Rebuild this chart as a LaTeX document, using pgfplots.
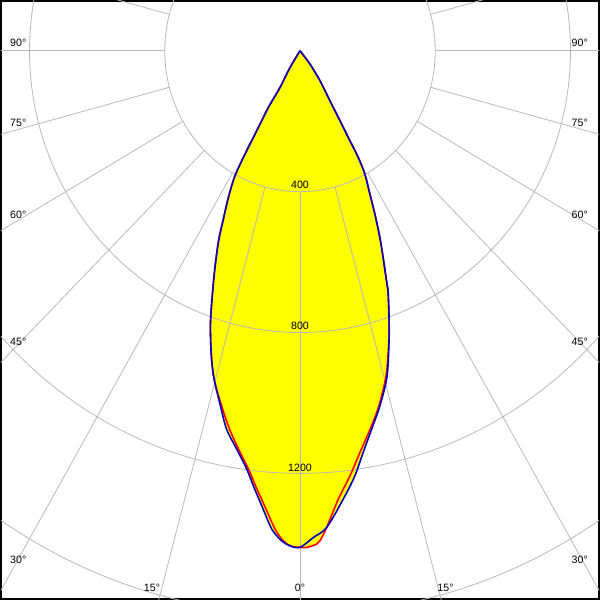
\documentclass[border=0pt]{standalone}
\usepackage{fontspec}
\setmainfont{Liberation Sans}
\usepackage{pgfplots}
\usepackage{pgfplotstable}
\pgfplotsset{compat=1.18}
\definecolor{gridc}{RGB}{185,185,185}
\definecolor{cblue}{RGB}{0,0,190}
\definecolor{cyellow}{RGB}{255,255,0}

% signed angle from nadir (negative = left), intensity in cd
\pgfplotstableread{
a I
-30.0 0
-31.9 55.7
-29.6 119.5
-30.2 185.7
-29.5 249.5
-29.2 302.4
-28.9 355.7
-28.4 407.6
-27.0 465.9
-25.3 532.4
-24.1 589.3
-22.5 653.6
-21.0 717.7
-18.9 817.8
-16.8 906.9
-15.2 967.8
-13.1 1036.8
-11.4 1097.1
-9.36 1147.5
-7.53 1199.1
-6.36 1243.6
-4.99 1297.6
-3.51 1361.2
-2.22 1392.8
-1.2 1406.2
0 1410
1.63 1382.7
3.33 1356.1
5.72 1280.1
7.64 1218.6
9.28 1156.7
11.12 1096.2
13.15 1036.8
15.56 959.9
17.79 862.0
19.23 799.5
20.96 727.5
21.43 699.4
22.77 634.5
24.05 578.6
25.57 512.4
26.97 455.1
28.77 398.1
29.65 347.5
30.06 294.3
30.8 230.6
32.0 166.9
34.8 103.4
38.1 47.8
40.0 0
}\bluedata

\pgfplotstableread{
a I
-30.0 0
-31.9 55.7
-29.6 119.5
-30.2 185.7
-29.5 249.5
-29.2 302.4
-28.9 355.7
-28.4 407.6
-27.0 465.9
-25.3 532.4
-24.1 589.3
-22.5 653.6
-21.0 717.7
-18.9 817.8
-16.8 906.9
-15.2 967.8
-12.91 1035.8
-10.94 1095.5
-9.10 1146.6
-7.28 1198.5
-6.06 1243.0
-4.63 1296.9
-3.10 1360.6
-2.03 1392.6
-1.08 1407.0
0 1410
0.8 1410.5
2.01 1402.0
2.43 1393.0
3.33 1356.0
5.07 1278.7
6.96 1216.8
8.81 1155.1
10.9 1095.0
13.0 1036.0
15.4 958.0
17.79 862.0
19.23 799.5
20.96 727.5
21.43 699.4
22.77 634.5
24.05 578.6
25.57 512.4
26.97 455.1
28.77 398.1
29.65 347.5
30.06 294.3
30.8 230.6
32.0 166.9
34.8 103.4
38.1 47.8
40.0 0
}\reddata

\begin{document}
\begin{tikzpicture}
\begin{axis}[
  width=450pt, height=450pt, scale only axis,
  xmin=-884.4, xmax=884.4, ymin=-1556.7, ymax=141.5,
  xtick=\empty, ytick=\empty,
  axis line style={line width=1.5pt, black},
  clip=true,
  every axis plot/.append style={data cs=polar, smooth, tension=0.5},
]
% filled light distribution
\addplot[fill=cyellow, draw=none] table[x expr=\thisrow{a}-90, y=I]{\bluedata};
\addplot[fill=cyellow, draw=none] table[x expr=\thisrow{a}-90, y=I]{\reddata};

% polar grid
\pgfplotsinvokeforeach{400,800,1200,1600,2000}{
  \draw[gridc, line width=0.6pt] (axis cs:0,0) ellipse [x radius=#1, y radius=#1];
}
\pgfplotsinvokeforeach{0,15,...,345}{
  \draw[gridc, line width=0.6pt] (axis cs:{400*cos(#1)},{400*sin(#1)}) -- (axis cs:{3000*cos(#1)},{3000*sin(#1)});
}

% curves
\addplot[red, line width=1.2pt] table[x expr=\thisrow{a}-90, y=I]{\reddata};
\addplot[cblue, line width=1.2pt] table[x expr=\thisrow{a}-90, y=I]{\bluedata};

% labels
\begin{scope}[every node/.style={font=\fontsize{8}{9}\selectfont, inner sep=0pt}]
\node[anchor=west] at (rel axis cs:0.015,0.9308) {90°};
\node[anchor=west] at (rel axis cs:0.015,0.7967) {75°};
\node[anchor=west] at (rel axis cs:0.015,0.6417) {60°};
\node[anchor=west] at (rel axis cs:0.015,0.4300) {45°};
\node[anchor=west] at (rel axis cs:0.015,0.0650) {30°};
\node[anchor=east] at (rel axis cs:0.9817,0.9308) {90°};
\node[anchor=east] at (rel axis cs:0.9817,0.7967) {75°};
\node[anchor=east] at (rel axis cs:0.9817,0.6417) {60°};
\node[anchor=east] at (rel axis cs:0.9817,0.4300) {45°};
\node[anchor=east] at (rel axis cs:0.9817,0.0650) {30°};
\node at (rel axis cs:0.2525,0.0183) {15°};
\node at (rel axis cs:0.5,0.0183) {0°};
\node at (rel axis cs:0.7433,0.0183) {15°};
\node at (rel axis cs:0.5,0.6925) {400};
\node at (rel axis cs:0.5,0.4567) {800};
\node at (rel axis cs:0.5,0.2200) {1200};
\end{scope}
\end{axis}
\end{tikzpicture}
\end{document}
